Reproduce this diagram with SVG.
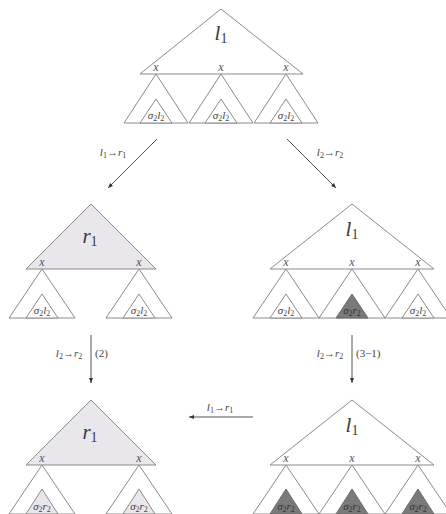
<svg xmlns="http://www.w3.org/2000/svg" width="446" height="514" viewBox="0 0 446 514">
<defs>
<style>
.t{fill:#ffffff;stroke:#8a8a8a;stroke-width:1;stroke-linejoin:miter}
.lt{fill:#e9e6ec;stroke:#8a8a8a;stroke-width:1}
.dk{fill:#7a7a7a;stroke:#6a6a6a;stroke-width:1}
.big{font-family:"Liberation Serif",serif;font-style:italic;font-size:21px;fill:#3a3a3a;text-anchor:middle}
.big .sub{font-size:14px;font-style:normal}
.xl{font-family:"Liberation Serif",serif;font-style:italic;font-size:12px;fill:#555;text-anchor:middle}
.sg{font-family:"Liberation Serif",serif;font-style:italic;font-size:11px;fill:#444;text-anchor:middle}
.sgd{font-family:"Liberation Serif",serif;font-style:italic;font-size:11px;fill:#333;text-anchor:middle}
.al{font-family:"Liberation Serif",serif;font-style:italic;font-size:11px;fill:#444;text-anchor:middle}
.an{font-family:"Liberation Serif",serif;font-size:11px;fill:#444}
.sub{font-size:8px;font-style:normal}
.c{stroke:#555;stroke-width:1;fill:none}
</style>
<marker id="ah" markerWidth="6" markerHeight="6" refX="5" refY="3" orient="auto" markerUnits="userSpaceOnUse">
<path d="M0,1 L5,3 L0,5 Z" fill="#333"/>
</marker>
</defs>
<rect width="446" height="514" fill="#ffffff"/>

<g id="tree-top">
<polygon class="t" points="221,9 303,74 140,74"/>
<text class="big" x="221" y="40">l<tspan class="sub" dy="3">1</tspan></text>
<text class="xl" x="156" y="71">x</text><text class="xl" x="221" y="71">x</text><text class="xl" x="286" y="71">x</text>
<polygon class="t" points="156,74 188,123 124,123"/>
<polygon class="t" points="221,74 253,123 189,123"/>
<polygon class="t" points="286,74 318,123 254,123"/>
<polygon class="t" points="156,99 172,123 140,123"/>
<polygon class="t" points="221,99 237,123 205,123"/>
<polygon class="t" points="286,99 302,123 270,123"/>
<text class="sg" x="156" y="119">σ<tspan class="sub" dy="2">2</tspan><tspan dy="-2">l</tspan><tspan class="sub" dy="2">2</tspan></text>
<text class="sg" x="221" y="119">σ<tspan class="sub" dy="2">2</tspan><tspan dy="-2">l</tspan><tspan class="sub" dy="2">2</tspan></text>
<text class="sg" x="286" y="119">σ<tspan class="sub" dy="2">2</tspan><tspan dy="-2">l</tspan><tspan class="sub" dy="2">2</tspan></text>
</g>

<g id="tree-mid-left">
<polygon class="lt" points="91,204 156,269 26,269"/>
<text class="big" x="90" y="243">r<tspan class="sub" dy="3">1</tspan></text>
<text class="xl" x="42" y="266">x</text><text class="xl" x="139" y="266">x</text>
<polygon class="t" points="42,269 75,318 9,318"/>
<polygon class="t" points="139,269 172,318 106,318"/>
<polygon class="t" points="42,294 58,318 26,318"/>
<polygon class="t" points="139,294 155,318 123,318"/>
<text class="sg" x="42" y="314">σ<tspan class="sub" dy="2">2</tspan><tspan dy="-2">l</tspan><tspan class="sub" dy="2">2</tspan></text>
<text class="sg" x="139" y="314">σ<tspan class="sub" dy="2">2</tspan><tspan dy="-2">l</tspan><tspan class="sub" dy="2">2</tspan></text>
</g>

<g id="tree-mid-right">
<polygon class="t" points="352,204 434,269 270,269"/>
<text class="big" x="352" y="236">l<tspan class="sub" dy="3">1</tspan></text>
<text class="xl" x="286" y="266">x</text><text class="xl" x="352" y="266">x</text><text class="xl" x="418" y="266">x</text>
<polygon class="t" points="286,269 319,318 253,318"/>
<polygon class="t" points="352,269 385,318 319,318"/>
<polygon class="t" points="418,269 451,318 385,318"/>
<polygon class="t" points="286,294 302,318 270,318"/>
<polygon class="dk" points="352,294 368,318 336,318"/>
<polygon class="t" points="418,294 434,318 402,318"/>
<text class="sg" x="286" y="314">σ<tspan class="sub" dy="2">2</tspan><tspan dy="-2">l</tspan><tspan class="sub" dy="2">2</tspan></text>
<text class="sgd" x="352" y="314">σ<tspan class="sub" dy="2">2</tspan><tspan dy="-2">r</tspan><tspan class="sub" dy="2">2</tspan></text>
<text class="sg" x="418" y="314">σ<tspan class="sub" dy="2">2</tspan><tspan dy="-2">l</tspan><tspan class="sub" dy="2">2</tspan></text>
</g>

<g id="tree-bot-left">
<polygon class="lt" points="91,400 156,465 26,465"/>
<text class="big" x="90" y="439">r<tspan class="sub" dy="3">1</tspan></text>
<text class="xl" x="42" y="462">x</text><text class="xl" x="139" y="462">x</text>
<polygon class="t" points="42,465 75,514 9,514"/>
<polygon class="t" points="139,465 172,514 106,514"/>
<polygon class="lt" points="42,489 58,514 26,514"/>
<polygon class="lt" points="139,489 155,514 123,514"/>
<text class="sg" x="42" y="510">σ<tspan class="sub" dy="2">2</tspan><tspan dy="-2">r</tspan><tspan class="sub" dy="2">2</tspan></text>
<text class="sg" x="139" y="510">σ<tspan class="sub" dy="2">2</tspan><tspan dy="-2">r</tspan><tspan class="sub" dy="2">2</tspan></text>
</g>

<g id="tree-bot-right">
<polygon class="t" points="352,400 434,465 270,465"/>
<text class="big" x="352" y="432">l<tspan class="sub" dy="3">1</tspan></text>
<text class="xl" x="286" y="462">x</text><text class="xl" x="352" y="462">x</text><text class="xl" x="418" y="462">x</text>
<polygon class="t" points="286,465 319,514 253,514"/>
<polygon class="t" points="352,465 385,514 319,514"/>
<polygon class="t" points="418,465 451,514 385,514"/>
<polygon class="dk" points="286,489 302,514 270,514"/>
<polygon class="dk" points="352,489 368,514 336,514"/>
<polygon class="dk" points="418,489 434,514 402,514"/>
<text class="sgd" x="286" y="510">σ<tspan class="sub" dy="2">2</tspan><tspan dy="-2">r</tspan><tspan class="sub" dy="2">2</tspan></text>
<text class="sgd" x="352" y="510">σ<tspan class="sub" dy="2">2</tspan><tspan dy="-2">r</tspan><tspan class="sub" dy="2">2</tspan></text>
<text class="sgd" x="418" y="510">σ<tspan class="sub" dy="2">2</tspan><tspan dy="-2">r</tspan><tspan class="sub" dy="2">2</tspan></text>
</g>

<g id="connectors">
<line class="c" x1="157" y1="139" x2="108" y2="188" marker-end="url(#ah)"/>
<line class="c" x1="287" y1="139" x2="336" y2="188" marker-end="url(#ah)"/>
<line class="c" x1="91" y1="335" x2="91" y2="383" marker-end="url(#ah)"/>
<line class="c" x1="352" y1="335" x2="352" y2="383" marker-end="url(#ah)"/>
<line class="c" x1="253" y1="417" x2="189" y2="417" marker-end="url(#ah)"/>
<text class="al" x="113" y="156">l<tspan class="sub" dy="2">1</tspan><tspan dy="-2" font-style="normal">→</tspan>r<tspan class="sub" dy="2">1</tspan></text>
<text class="al" x="330" y="156">l<tspan class="sub" dy="2">2</tspan><tspan dy="-2" font-style="normal">→</tspan>r<tspan class="sub" dy="2">2</tspan></text>
<text class="al" x="69" y="357">l<tspan class="sub" dy="2">2</tspan><tspan dy="-2" font-style="normal">→</tspan>r<tspan class="sub" dy="2">2</tspan></text>
<text class="an" x="95" y="357">(2)</text>
<text class="al" x="330" y="357">l<tspan class="sub" dy="2">2</tspan><tspan dy="-2" font-style="normal">→</tspan>r<tspan class="sub" dy="2">2</tspan></text>
<text class="an" x="356" y="357">(3−1)</text>
<text class="al" x="220" y="411">l<tspan class="sub" dy="2">1</tspan><tspan dy="-2" font-style="normal">→</tspan>r<tspan class="sub" dy="2">1</tspan></text>
</g>
</svg>
